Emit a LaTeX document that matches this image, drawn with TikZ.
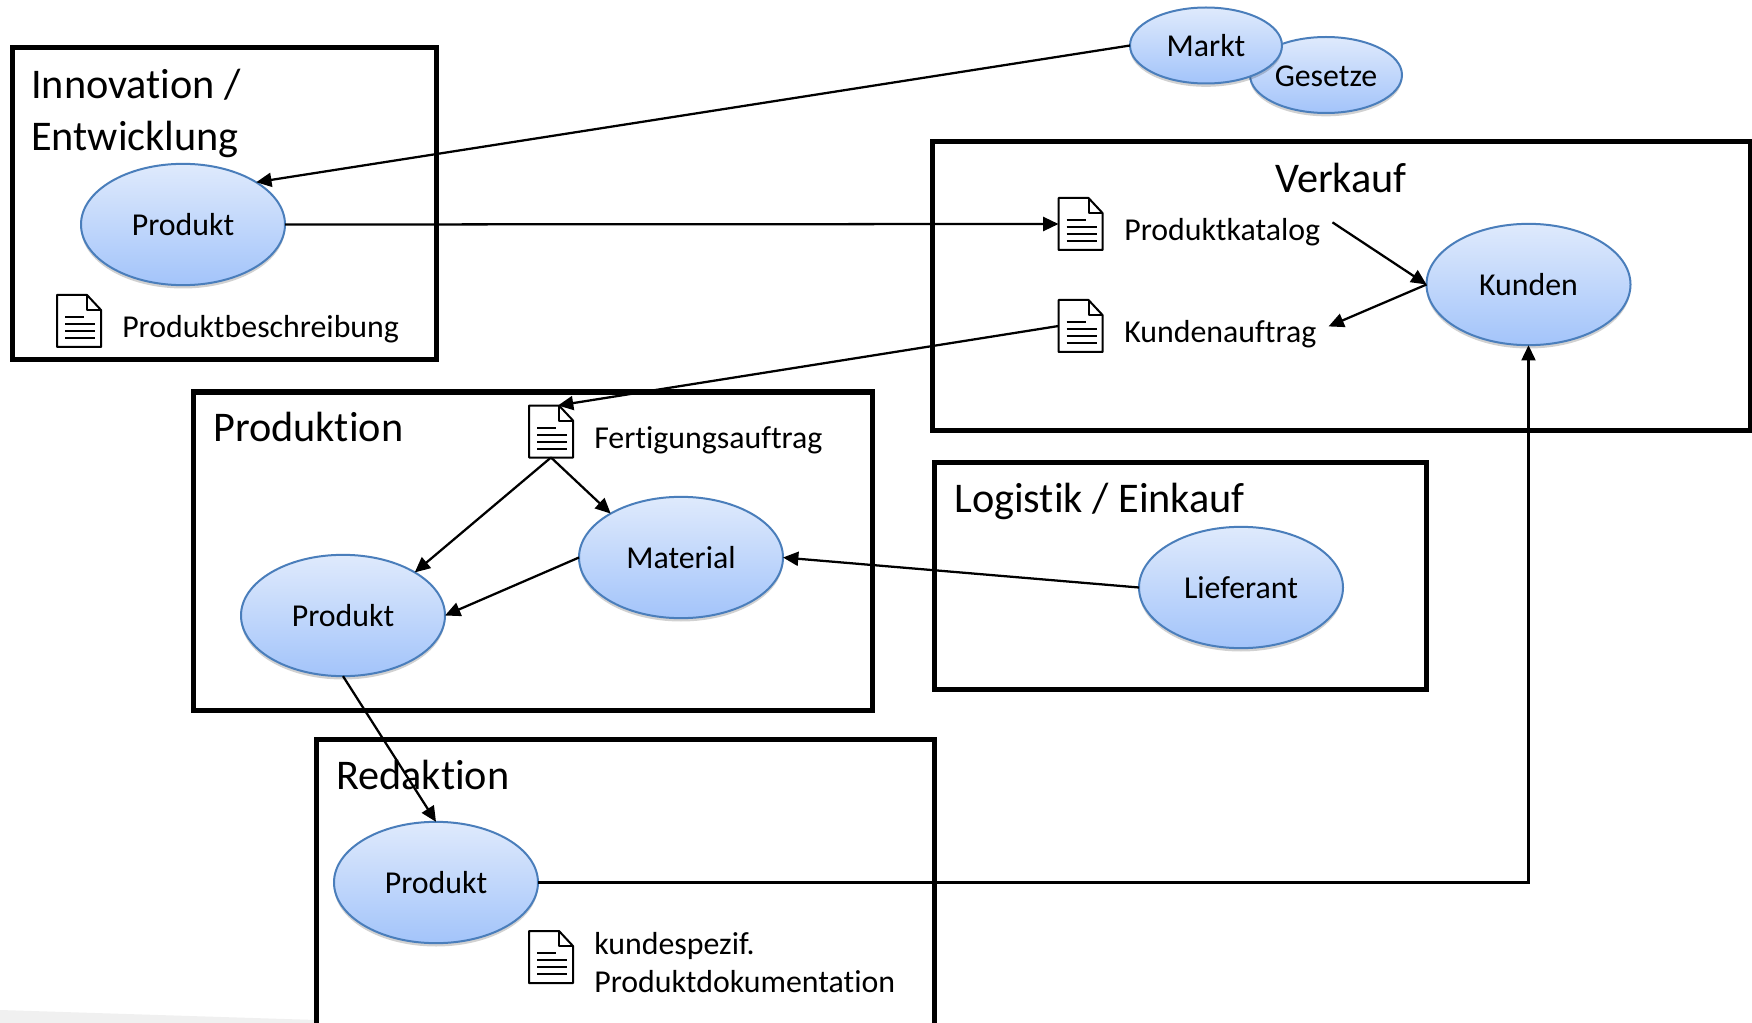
\documentclass[tikz,border=0pt]{standalone}
\usepackage{fontspec}
\setmainfont[Ligatures={NoCommon,NoRare,NoContextual}]{Carlito}
\usetikzlibrary{shapes.geometric,arrows.meta,shadows}
\definecolor{elltop}{HTML}{DFEAFC}
\definecolor{ellbot}{HTML}{A3C4FA}
\definecolor{ellline}{HTML}{4A7EBB}
\tikzset{
  framebox/.style={draw=black,line width=3.75pt,fill=none,inner sep=0pt,outer sep=0pt},
  topic/.style={ellipse,draw=ellline,line width=1.5pt,top color=elltop,bottom color=ellbot,inner sep=0pt,outer sep=0pt,font=\fontsize{23.9}{28}\selectfont,text height=18.2pt,text depth=1pt,
    minimum width=153pt,minimum height=91pt,drop shadow={shadow xshift=0pt,shadow yshift=-2.5pt,opacity=.18,fill=black}},
  smalltopic/.style={topic,minimum width=114pt,minimum height=57pt},
  title/.style={anchor=west,inner sep=0pt,font=\fontsize{31.7}{39}\selectfont,align=left},
  label/.style={anchor=west,inner xsep=0pt,inner ysep=0pt,font=\fontsize{23.9}{28.5}\selectfont,align=left},
  docbox/.style={inner sep=0pt,outer sep=0pt,minimum width=33pt,minimum height=39pt},
  link/.style={line width=1.7pt,-{Triangle[length=11.5pt,width=10.5pt]}},
}
\newcommand{\docicon}[2]{%
  \node[docbox] (#1) at (#2) {};
  \begin{scope}[shift={(#1.center)},line width=1.5pt,line join=round]
    \draw (-22,-26) -- (8,-26) -- (22,-11) -- (22,26) -- (-22,26) -- cycle;
    \draw (8,-26) -- (8,-11) -- (22,-11);
    \draw (-14,-4) -- (5,-4);
    \draw (-14,3) -- (16,3);
    \draw (-14,10) -- (16,10);
    \draw (-14,17) -- (16,17);
  \end{scope}}
\begin{document}
\begin{tikzpicture}[x=0.75pt,y=-0.75pt]
\useasboundingbox (0,0) rectangle (1752,1023);
\fill[white] (0,0) rectangle (1752,1023);
\fill[black!6] (0,1010) -- (316,1020) -- (316,1023) -- (0,1023) -- cycle;

\node[framebox,minimum width=424*0.75pt,minimum height=312*0.75pt] (boxinno) at (224,204) {};
\node[framebox,minimum width=818*0.75pt,minimum height=288*0.75pt] (boxverk) at (1341,286) {};
\node[framebox,minimum width=679.5*0.75pt,minimum height=318*0.75pt] (boxprod) at (533,551) {};
\node[framebox,minimum width=492*0.75pt,minimum height=227*0.75pt] (boxlog) at (1180.5,575.5) {};
\node[framebox,minimum width=618*0.75pt,minimum height=321*0.75pt] (boxred) at (625,899.5) {};

\node[title] (tinno) at (31,113) {Innovation /\\Entwicklung};
\node[title,anchor=center] (tverk) at (1341,178) {Verkauf};
\node[title] (tprod) at (213,427) {Produktion};
\node[title] (tlog) at (954,501) {Logistik / Einkauf};
\node[title] (tred) at (336,775) {Redaktion};

\node[smalltopic] (gesetze) at (1326,75) {Gesetze};
\node[smalltopic] (markt) at (1206,45.5) {Markt};
\node[topic] (prodA) at (183,224.5) {Produkt};
\node[topic] (kunden) at (1528.5,284.5) {Kunden};
\node[topic] (material) at (681,557.5) {Material};
\node[topic] (prodB) at (343,615.5) {Produkt};
\node[topic] (lieferant) at (1241,587.5) {Lieferant};
\node[topic] (prodC) at (436,882.5) {Produkt};

\docicon{docbeschr}{79,321}
\docicon{dockat}{1080.5,224}
\docicon{docauf}{1080.5,326}
\docicon{docfert}{551,431.5}
\docicon{dockund}{551,957}

\node[label] (lbeschr) at (122,329) {Produktbeschreibung};
\node[label,inner xsep=12*0.75pt] (lkat) at (1112,232) {Produktkatalog};
\node[label,inner xsep=12*0.75pt] (lauf) at (1112,334) {Kundenauftrag};
\node[label] (lfert) at (594,440) {Fertigungsauftrag};
\node[label] (lkund) at (594,963) {kundespezif.\\Produktdokumentation};

\draw[link] (markt.west) -- (prodA.30);
\draw[link] (prodA.east) -- (dockat.west);
\draw[link] (lkat.5) -- (kunden.west);
\draw[link] (kunden.west) -- (lauf.4);
\draw[link] (docauf.west) -- (docfert.75);
\draw[link] (docfert.south) -- (prodB.31);
\draw[link] (docfert.south) -- (material.148);
\draw[link] (material.west) -- (prodB.east);
\draw[link] (lieferant.west) -- (material.east);
\draw[link] (prodB.south) -- (prodC.north);
\draw[link] (prodC.east) -| (kunden.south);
\end{tikzpicture}
\end{document}
